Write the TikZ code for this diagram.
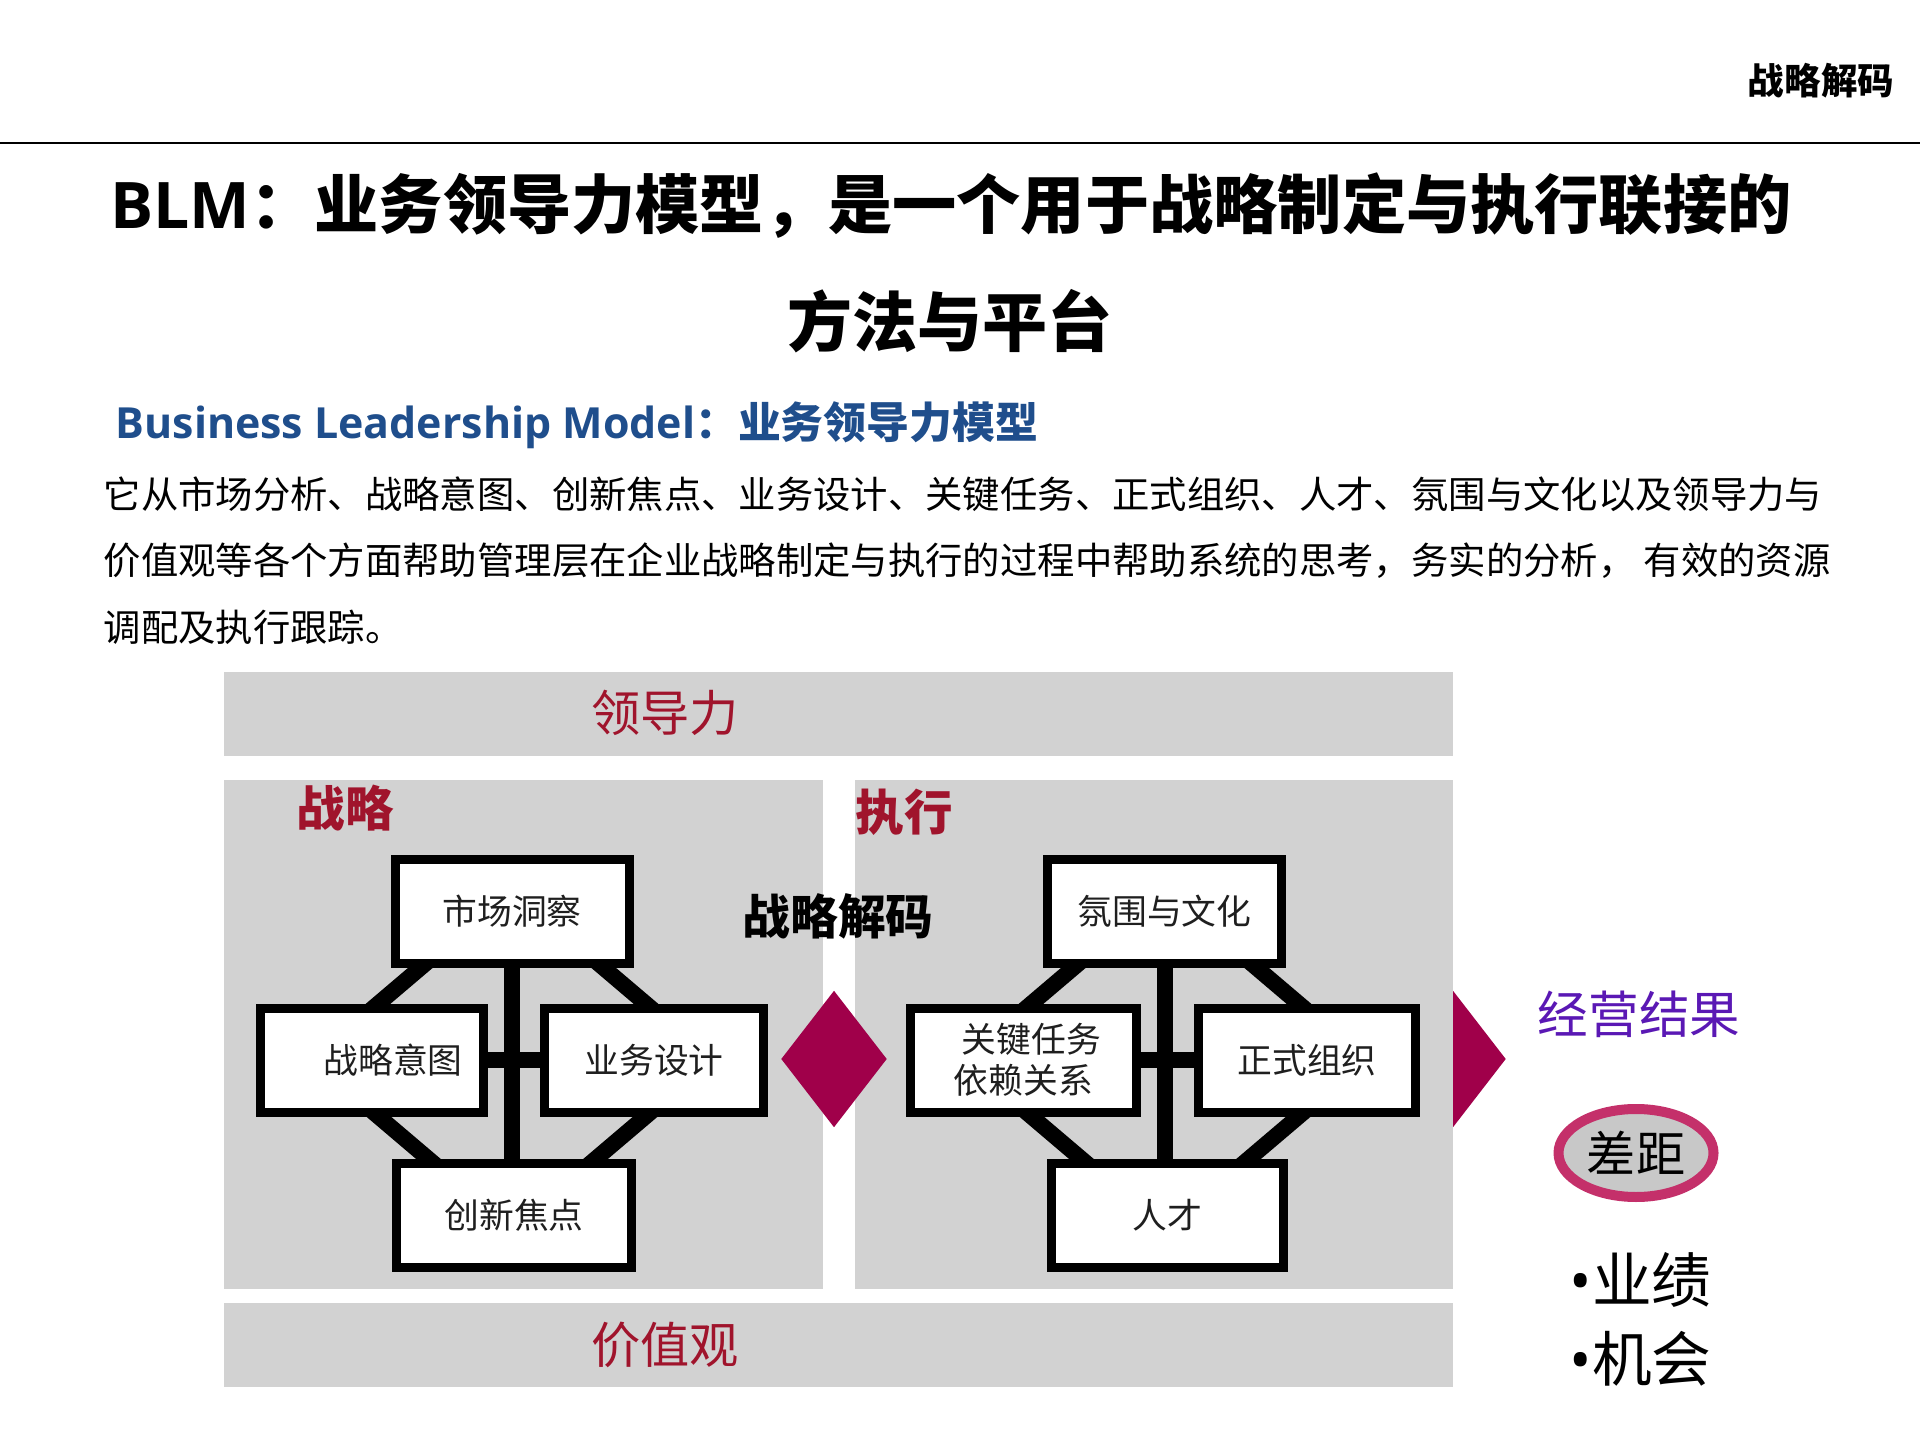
\documentclass[tikz,border=0pt]{standalone}
\usepackage{fontspec}
\setmainfont{Noto Sans CJK SC}
\newfontfamily\latinfont{Open Sans}
\definecolor{panelgray}{HTML}{D2D2D2}
\definecolor{labelred}{HTML}{A0142C}
\definecolor{decodemag}{HTML}{A0004A}
\definecolor{gapring}{HTML}{C4306A}
\definecolor{gapfill}{HTML}{C8C8C8}
\definecolor{resultpurple}{HTML}{5A18B4}
\definecolor{subblue}{HTML}{1F4E8C}
\usetikzlibrary{calc,shapes.geometric}

\begin{document}
\begin{tikzpicture}[
  band/.style={fill=panelgray},
  blmbox/.style={draw=black, line width=0.09cm, fill=white, minimum height=1.04cm,
    inner sep=0pt, align=center, text=black!88, font=\fontsize{9.9}{11.6}\selectfont},
  topbox/.style={blmbox, minimum width=2.34cm},
  sidebox/.style={blmbox, minimum width=2.21cm},
  link/.style={line width=0.16cm, line join=miter},
  redlabel/.style={text=labelred, font=\fontsize{14}{16}\selectfont},
  decodetip/.style={diamond, fill=decodemag, minimum width=1.06cm, minimum height=1.37cm, inner sep=0pt},
  bodyline/.style={anchor=west, inner sep=0pt, font=\fontsize{10.63}{13}\selectfont}]
  \useasboundingbox (0,0) rectangle (19.2,14.4);

  % Header
  \node[font=\bfseries\fontsize{10.4}{12}\selectfont] (hdr) at (18.21,13.59) {战略解码};
  \draw[line width=0.02cm] (0,12.97) -- (19.2,12.97);

  % Title and intro
  \node[font=\bfseries\fontsize{18.27}{22}\selectfont] (title1) at (9.51,12.34) {{\latinfont BLM}：业务领导力模型，是一个用于战略制定与执行联接的};
  \node[font=\bfseries\fontsize{18.5}{22}\selectfont] (title2) at (9.50,11.19) {方法与平台};
  \node[anchor=west, inner sep=0pt, text=subblue, font=\bfseries\fontsize{12.2}{14}\selectfont] (sub) at (1.15,10.15) {{\latinfont Business Leadership Model}：业务领导力模型};
  \node[bodyline] (line1) at (1.03,9.46) {它从市场分析、战略意图、创新焦点、业务设计、关键任务、正式组织、人才、氛围与文化以及领导力与};
  \node[bodyline] (line2) at (1.03,8.79) {价值观等各个方面帮助管理层在企业战略制定与执行的过程中帮助系统的思考，务实的分析， 有效的资源};
  \node[bodyline] (line3) at (1.03,8.13) {调配及执行跟踪。};

  % Outcome tip sits behind the execution panel
  \node[decodetip] (outtip) at (14.53,3.81) {};

  % Bands and panels
  \fill[band] (2.24,6.84) rectangle (14.53,7.68);
  \fill[band] (2.24,1.51) rectangle (8.23,6.60);
  \fill[band] (8.55,1.51) rectangle (14.53,6.60);
  \fill[band] (2.24,0.53) rectangle (14.53,1.37);
  \node[redlabel] (lead) at (6.65,7.27) {领导力};
  \node[redlabel] (values) at (6.65,0.95) {价值观};
  \node[redlabel, font=\bfseries\fontsize{13.8}{16}\selectfont] (strat) at (3.45,6.32) {战略};
  \node[redlabel, font=\bfseries\fontsize{13.8}{16}\selectfont] (exec) at (9.04,6.28) {执行};
  \node[font=\bfseries\fontsize{13.6}{16}\selectfont] (decode) at (8.38,5.24) {战略解码};
  \node[decodetip] (midtip) at (8.34,3.81) {};

  % Strategy cluster
  \coordinate (c1) at (5.12,3.80);
  \draw[link] ($(c1)+(0,1.70)$) -- ($(c1)+(2.00,0)$) -- ($(c1)+(0,-1.70)$) -- ($(c1)+(-2.00,0)$) -- cycle;
  \node[topbox] (mkt) at (5.12,5.285) {市场洞察};
  \node[sidebox, minimum width=2.23cm] (intent) at (3.72,3.80) {\hspace*{0.42cm}战略意图};
  \node[sidebox, minimum width=2.19cm] (design) at (6.54,3.80) {业务设计};
  \node[topbox, minimum width=2.35cm] (innov) at (5.14,2.25) {创新焦点};
  \draw[link] (mkt.south) -- (mkt.south |- innov.north);
  \draw[link] (intent) -- (design);

  % Execution cluster
  \coordinate (c2) at (11.65,3.80);
  \draw[link] ($(c2)+(0,1.70)$) -- ($(c2)+(2.00,0)$) -- ($(c2)+(0,-1.70)$) -- ($(c2)+(-2.00,0)$) -- cycle;
  \node[topbox] (climate) at (11.645,5.285) {氛围与文化};
  \node[sidebox, minimum width=2.26cm] (tasks) at (10.235,3.80) {\hspace*{0.16cm}关键任务\\依赖关系};
  \node[sidebox, minimum width=2.17cm] (org) at (13.07,3.80) {正式组织};
  \node[topbox, minimum width=2.32cm] (talent) at (11.675,2.25) {人才};
  \draw[link] (climate.south) -- (climate.south |- talent.north);
  \draw[link] (tasks) -- (org);

  % Results
  \node[text=resultpurple, font=\fontsize{14.4}{17}\selectfont] (result) at (16.39,4.26) {经营结果};
  \node[ellipse, draw=gapring, line width=0.1cm, fill=gapfill, minimum width=1.55cm, minimum height=0.88cm,
    inner sep=0pt, font=\fontsize{14}{16}\selectfont] (gap) at (16.36,2.87) {差距};
  \node[anchor=west, inner sep=0pt, font=\fontsize{17}{20}\selectfont] (perf) at (15.69,1.60) {{\latinfont •}业绩};
  \node[anchor=west, inner sep=0pt, font=\fontsize{17}{20}\selectfont] (chance) at (15.69,0.81) {{\latinfont •}机会};
\end{tikzpicture}
\end{document}
